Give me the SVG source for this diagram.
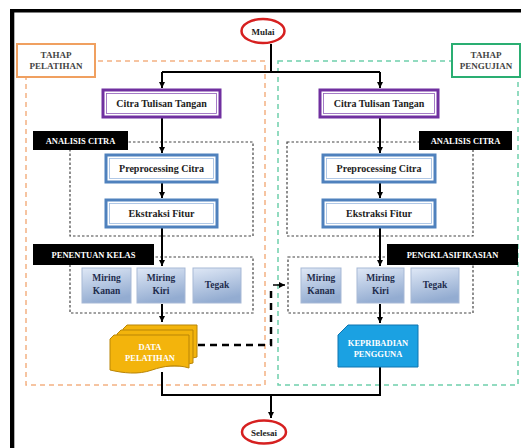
<svg xmlns="http://www.w3.org/2000/svg" width="521" height="448" viewBox="0 0 521 448">
<defs>
<style>
.t{font-family:"Liberation Serif","Times New Roman",serif;font-weight:bold;text-anchor:middle}
.lbl{fill:#fff;font-size:8.5px}
.stage{fill:#fff;stroke-width:2}
.cit{fill:#fff;stroke:#7030a0;stroke-width:3}
.citi{fill:none;stroke:#8e5bb8;stroke-width:0.8}
.pre{fill:#fff;stroke:#4f81bd;stroke-width:3}
.prei{fill:none;stroke:#9dbbe0;stroke-width:0.8}
.cls{fill:url(#g);stroke:#a7b9d6;stroke-width:1}
.dot{fill:none;stroke:#444;stroke-width:1.2;stroke-dasharray:2.5,2}
.con{fill:none;stroke:#000;stroke-width:2}
.doc{fill:#f3b40c;stroke:#b98507;stroke-width:1}
</style>
<linearGradient id="g" x1="0" y1="0" x2="0.3" y2="1">
<stop offset="0" stop-color="#dfe8f6"/>
<stop offset="1" stop-color="#93acd1"/>
</linearGradient>
<marker id="a" markerWidth="8" markerHeight="8" refX="6" refY="3" orient="auto" markerUnits="userSpaceOnUse">
<path d="M0,0 L6,3 L0,6 Z" fill="#000"/>
</marker>
</defs>
<rect width="521" height="448" fill="#fff"/>
<rect x="10" y="9" width="511" height="3.5" fill="#000"/>
<rect x="10" y="9" width="4.3" height="439" fill="#000"/>

<g id="region-pelatihan">
<rect x="26" y="61" width="239" height="324" fill="none" stroke="#f4b183" stroke-width="1.5" stroke-dasharray="5,4"/>
</g>
<g id="region-pengujian">
<rect x="278" y="61" width="240" height="324" fill="none" stroke="#6fcfac" stroke-width="1.5" stroke-dasharray="5,4"/>
</g>

<g id="dashed-groups">
<rect class="dot" x="70" y="142" width="183" height="94"/>
<rect class="dot" x="287" y="142" width="186" height="94"/>
<rect class="dot" x="70" y="257" width="183" height="56"/>
<rect class="dot" x="288" y="257" width="185" height="56"/>
</g>

<g id="connectors">
<path class="con" d="M271,44 V72"/>
<path class="con" d="M162,72 H380"/>
<path class="con" d="M162,72 V88" marker-end="url(#a)"/>
<path class="con" d="M380,72 V88" marker-end="url(#a)"/>
<path class="con" d="M162,118 V153" marker-end="url(#a)"/>
<path class="con" d="M380,118 V153" marker-end="url(#a)"/>
<path class="con" d="M162,183 V198" marker-end="url(#a)"/>
<path class="con" d="M380,183 V198" marker-end="url(#a)"/>
<path class="con" d="M162,228 V266" marker-end="url(#a)"/>
<path class="con" d="M380,228 V266" marker-end="url(#a)"/>
<path class="con" d="M162,304 V322" marker-end="url(#a)"/>
<path class="con" d="M380,304 V323" marker-end="url(#a)"/>
<path class="con" d="M162,372 V395 H380 V367"/>
<path class="con" d="M271,395 V418" marker-end="url(#a)"/>
<path d="M198,345 H271 V289" fill="none" stroke="#000" stroke-width="2.5" stroke-dasharray="7,5"/>
<path d="M273,285 H285" fill="none" stroke="#000" stroke-width="1.5" marker-end="url(#a)"/>
</g>

<g id="mulai">
<ellipse cx="263" cy="31" rx="21.5" ry="12" fill="#fff" stroke="#d62020" stroke-width="2.5"/>
<text class="t" x="263" y="34.5" font-size="9" fill="#222">Mulai</text>
</g>
<g id="selesai">
<ellipse cx="264" cy="432" rx="22" ry="11.5" fill="#fff" stroke="#d62020" stroke-width="2.5"/>
<text class="t" x="264" y="435.5" font-size="9" fill="#222">Selesai</text>
</g>

<g id="tahap-pelatihan">
<rect class="stage" x="17" y="44" width="78" height="33" stroke="#f0a060"/>
<text class="t" x="56" y="58" font-size="9" fill="#444">TAHAP</text>
<text class="t" x="56" y="69" font-size="9" fill="#444">PELATIHAN</text>
</g>
<g id="tahap-pengujian">
<rect class="stage" x="452" y="44" width="68" height="33" stroke="#2aae72"/>
<text class="t" x="486" y="58" font-size="9" fill="#444">TAHAP</text>
<text class="t" x="486" y="69" font-size="9" fill="#444">PENGUJIAN</text>
</g>

<g id="citra-left">
<rect class="cit" x="103" y="90" width="117" height="27"/>
<rect class="citi" x="106.5" y="93.5" width="110" height="20"/>
<text class="t" x="161.5" y="107" font-size="10" fill="#222">Citra Tulisan Tangan</text>
</g>
<g id="citra-right">
<rect class="cit" x="320" y="90" width="118" height="27"/>
<rect class="citi" x="323.5" y="93.5" width="111" height="20"/>
<text class="t" x="379" y="107" font-size="10" fill="#222">Citra Tulisan Tangan</text>
</g>

<g id="label-analisis-left">
<rect x="33" y="131" width="95" height="19" fill="#000"/>
<text class="t lbl" x="80.5" y="144">ANALISIS CITRA</text>
</g>
<g id="label-analisis-right">
<rect x="419" y="131" width="93" height="19" fill="#000"/>
<text class="t lbl" x="465.5" y="144">ANALISIS CITRA</text>
</g>

<g id="preprocessing-left">
<rect class="pre" x="106" y="155" width="111" height="27"/>
<rect class="prei" x="109.5" y="158.5" width="104" height="20"/>
<text class="t" x="161.5" y="171.5" font-size="10" fill="#222">Preprocessing Citra</text>
</g>
<g id="preprocessing-right">
<rect class="pre" x="323" y="155" width="112" height="27"/>
<rect class="prei" x="326.5" y="158.5" width="105" height="20"/>
<text class="t" x="379" y="171.5" font-size="10" fill="#222">Preprocessing Citra</text>
</g>
<g id="ekstraksi-left">
<rect class="pre" x="106" y="200" width="111" height="27"/>
<rect class="prei" x="109.5" y="203.5" width="104" height="20"/>
<text class="t" x="161.5" y="217" font-size="10" fill="#222">Ekstraksi Fitur</text>
</g>
<g id="ekstraksi-right">
<rect class="pre" x="323" y="200" width="112" height="27"/>
<rect class="prei" x="326.5" y="203.5" width="105" height="20"/>
<text class="t" x="379" y="217" font-size="10" fill="#222">Ekstraksi Fitur</text>
</g>

<g id="label-penentuan">
<rect x="33" y="244" width="121" height="21" fill="#000"/>
<text class="t lbl" x="93.5" y="258">PENENTUAN KELAS</text>
</g>
<g id="label-pengklasifikasian">
<rect x="387" y="244" width="131" height="21" fill="#000"/>
<text class="t lbl" x="452.5" y="258">PENGKLASIFIKASIAN</text>
</g>

<g id="miring-kanan-left">
<rect class="cls" x="82" y="268" width="49" height="35"/>
<text class="t" x="106.5" y="281" font-size="9.5" fill="#1f2d4d">Miring</text>
<text class="t" x="106.5" y="294" font-size="9.5" fill="#1f2d4d">Kanan</text>
</g>
<g id="miring-kiri-left">
<rect class="cls" x="137" y="268" width="48" height="35"/>
<text class="t" x="161" y="281" font-size="9.5" fill="#1f2d4d">Miring</text>
<text class="t" x="161" y="294" font-size="9.5" fill="#1f2d4d">Kiri</text>
</g>
<g id="tegak-left">
<rect class="cls" x="193" y="268" width="48" height="35"/>
<text class="t" x="217" y="288" font-size="9.5" fill="#1f2d4d">Tegak</text>
</g>
<g id="miring-kanan-right">
<rect class="cls" x="301" y="268" width="40" height="35"/>
<text class="t" x="321" y="281" font-size="9.5" fill="#1f2d4d">Miring</text>
<text class="t" x="321" y="294" font-size="9.5" fill="#1f2d4d">Kanan</text>
</g>
<g id="miring-kiri-right">
<rect class="cls" x="357" y="268" width="47" height="35"/>
<text class="t" x="380.5" y="281" font-size="9.5" fill="#1f2d4d">Miring</text>
<text class="t" x="380.5" y="294" font-size="9.5" fill="#1f2d4d">Kiri</text>
</g>
<g id="tegak-right">
<rect class="cls" x="411" y="268" width="48" height="35"/>
<text class="t" x="435" y="288" font-size="9.5" fill="#1f2d4d">Tegak</text>
</g>

<g id="data-pelatihan">
<path class="doc" d="M123,329 L127,325 H197 V357 C192,358 190,359 186,360 L123,360 Z"/>
<path class="doc" d="M117,334 L121,330 H193 V363 C188,364 184,365 180,366 L117,366 Z"/>
<path class="doc" d="M110,339 L114,335 H189 V368 C176,364 164,366 152,370 C138,375 123,373 110,370 Z"/>
<text class="t lbl" x="150" y="350">DATA</text>
<text class="t lbl" x="150" y="361">PELATIHAN</text>
</g>

<g id="kepribadian-pengguna">
<path d="M338,335 L348,325 H418 V367 H338 Z" fill="#1ba1e2" stroke="#0f75b0" stroke-width="1"/>
<text class="t lbl" x="378" y="346">KEPRIBADIAN</text>
<text class="t lbl" x="378" y="357">PENGGUNA</text>
</g>
</svg>
